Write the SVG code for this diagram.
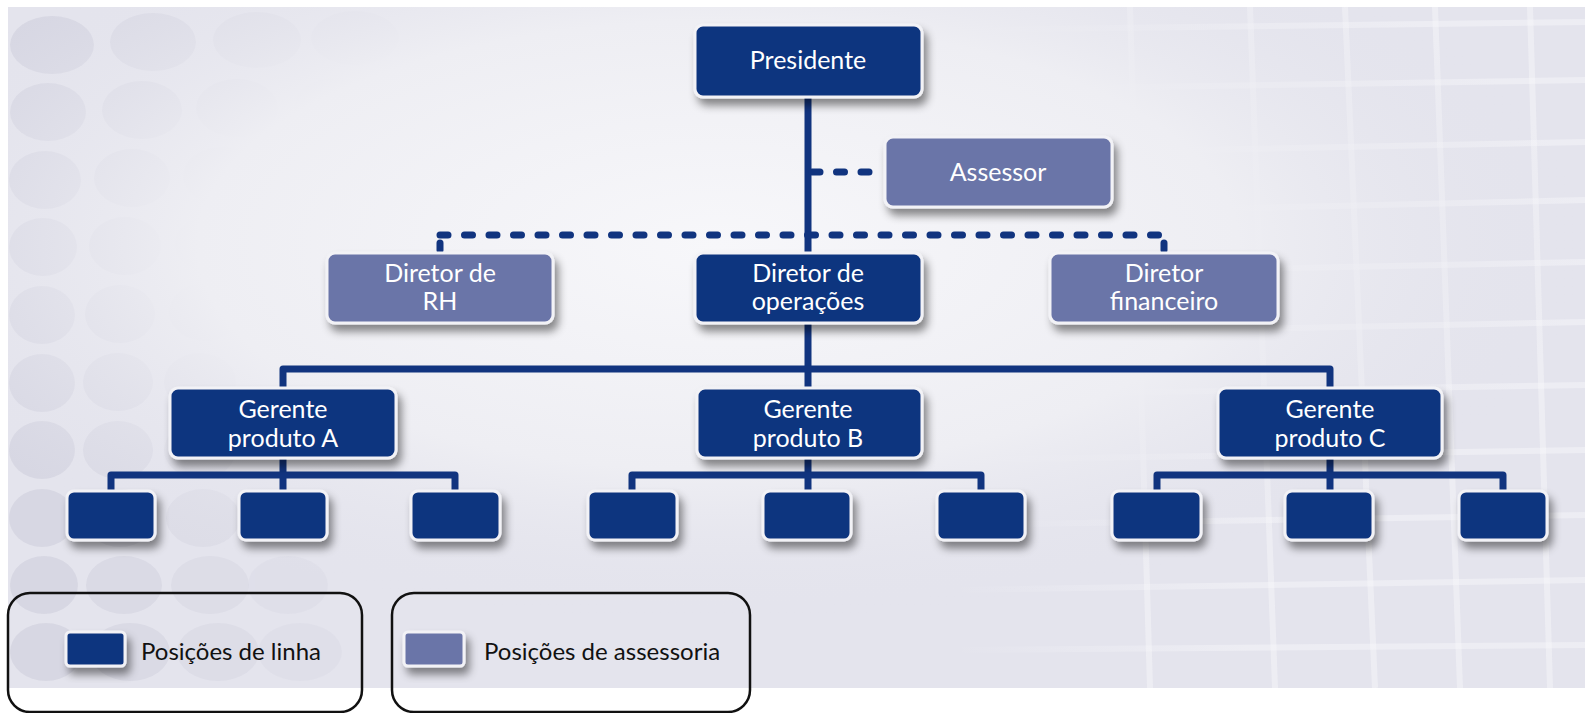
<svg xmlns="http://www.w3.org/2000/svg" width="1585" height="713" viewBox="0 0 1585 713">
  <defs>
    <filter id="sh" x="-20%" y="-30%" width="150%" height="180%">
      <feDropShadow dx="4" dy="7" stdDeviation="4" flood-color="#000" flood-opacity="0.45"/>
    </filter>
    <radialGradient id="glow" cx="0.45" cy="0.35" r="0.55">
      <stop offset="0" stop-color="#f7f7fa"/>
      <stop offset="0.6" stop-color="#eeeef3"/>
      <stop offset="1" stop-color="#e3e3ec" stop-opacity="0"/>
    </radialGradient>
    <linearGradient id="gridfade" gradientUnits="userSpaceOnUse" x1="950" y1="0" x2="1250" y2="0">
      <stop offset="0" stop-color="#f8f8fb" stop-opacity="0"/>
      <stop offset="1" stop-color="#f8f8fb" stop-opacity="1"/>
    </linearGradient>
    <style>
      .line { fill: #11347f; stroke: #f2f2f6; stroke-width: 3; filter: url(#sh); }
      .staff { fill: #6b74a8; stroke: #f2f2f6; stroke-width: 3; filter: url(#sh); }
      .lbl { font-family: Lato, "Open Sans", sans-serif; font-size: 25px; fill: #ffffff; text-anchor: middle; }
      .leg { font-family: Lato, "Open Sans", sans-serif; font-size: 24px; fill: #111111; }
      .solid { fill: none; stroke: #11347f; stroke-width: 7; stroke-linejoin: round; }
      .dash { fill: none; stroke: #11347f; stroke-width: 7; stroke-linecap: round; stroke-dasharray: 8 16.5; }
      .tick { fill: none; stroke: #11347f; stroke-width: 7; stroke-linecap: round; }
      .circ { fill: #d5d5e1; }
      .grid { stroke: url(#gridfade); stroke-width: 6; fill: none; opacity: 0.45; }
      .gridv { stroke: #f8f8fb; stroke-width: 6; fill: none; opacity: 0.45; }
      .legbox { fill: none; stroke: #111111; stroke-width: 2.5; }
    </style>
  </defs>

  <!-- background -->
  <rect x="0" y="0" width="1585" height="713" fill="#ffffff"/>
  <rect x="8" y="7" width="1577" height="681" fill="#e4e4ed"/>
  <g id="grid">
    <path class="gridv" d="M1130 7 L1150 688 M1250 7 L1275 688 M1345 7 L1375 688 M1435 7 L1460 688 M1530 7 L1550 688"/>
    <path class="grid" d="M950 30 L1585 22 M950 90 L1585 80 M950 155 L1585 142 M950 215 L1585 200 M950 275 L1585 262 M950 335 L1585 322 M950 395 L1585 385 M950 460 L1585 450 M950 525 L1585 515 M950 590 L1585 580 M950 650 L1585 645"/>
  </g>
  <g id="circles">
    <g opacity="0.8">
      <ellipse class="circ" cx="52" cy="45" rx="42" ry="29"/>
      <ellipse class="circ" cx="48" cy="112" rx="38" ry="29"/>
      <ellipse class="circ" cx="45" cy="180" rx="36" ry="29"/>
      <ellipse class="circ" cx="43" cy="247" rx="34" ry="29"/>
      <ellipse class="circ" cx="42" cy="315" rx="33" ry="29"/>
      <ellipse class="circ" cx="42" cy="383" rx="33" ry="29"/>
      <ellipse class="circ" cx="42" cy="450" rx="33" ry="29"/>
      <ellipse class="circ" cx="42" cy="518" rx="33" ry="29"/>
      <ellipse class="circ" cx="44" cy="585" rx="34" ry="29"/>
      <ellipse class="circ" cx="46" cy="652" rx="36" ry="29"/>
    </g>
    <g opacity="0.65">
      <ellipse class="circ" cx="153" cy="42" rx="43" ry="29"/>
      <ellipse class="circ" cx="142" cy="110" rx="40" ry="29"/>
      <ellipse class="circ" cx="132" cy="178" rx="38" ry="29"/>
      <ellipse class="circ" cx="125" cy="246" rx="36" ry="29"/>
      <ellipse class="circ" cx="120" cy="314" rx="35" ry="29"/>
      <ellipse class="circ" cx="118" cy="382" rx="35" ry="29"/>
      <ellipse class="circ" cx="118" cy="450" rx="35" ry="29"/>
      <ellipse class="circ" cx="120" cy="518" rx="36" ry="29"/>
      <ellipse class="circ" cx="124" cy="585" rx="38" ry="29"/>
      <ellipse class="circ" cx="130" cy="652" rx="40" ry="29"/>
    </g>
    <g opacity="0.45">
      <ellipse class="circ" cx="257" cy="40" rx="44" ry="28"/>
      <ellipse class="circ" cx="237" cy="108" rx="41" ry="29"/>
      <ellipse class="circ" cx="222" cy="176" rx="39" ry="29"/>
      <ellipse class="circ" cx="212" cy="244" rx="37" ry="29"/>
      <ellipse class="circ" cx="205" cy="312" rx="36" ry="29"/>
      <ellipse class="circ" cx="200" cy="382" rx="36" ry="29"/>
      <ellipse class="circ" cx="200" cy="450" rx="36" ry="29"/>
      <ellipse class="circ" cx="203" cy="518" rx="37" ry="29"/>
      <ellipse class="circ" cx="210" cy="585" rx="39" ry="29"/>
      <ellipse class="circ" cx="218" cy="652" rx="41" ry="29"/>
    </g>
    <g opacity="0.28">
      <ellipse class="circ" cx="355" cy="38" rx="44" ry="27"/>
      <ellipse class="circ" cx="335" cy="106" rx="41" ry="28"/>
      <ellipse class="circ" cx="313" cy="174" rx="39" ry="28"/>
      <ellipse class="circ" cx="300" cy="242" rx="37" ry="28"/>
      <ellipse class="circ" cx="292" cy="312" rx="36" ry="28"/>
      <ellipse class="circ" cx="288" cy="585" rx="40" ry="29"/>
      <ellipse class="circ" cx="300" cy="652" rx="42" ry="29"/>
    </g>
  </g>
  <rect x="8" y="7" width="1577" height="681" fill="url(#glow)"/>

  <!-- connectors -->
  <g id="connectors">
    <path class="solid" d="M808 97 V388"/>
    <path class="solid" d="M283 388 V369 H1330 V388"/>
    <path class="dash" d="M812 172 H884"/>
    <path class="dash" d="M440 235 H1164"/>
    <path class="tick" d="M440 243 V250"/>
    <path class="tick" d="M1164 243 V250"/>
    <path class="solid" d="M283 458 V491"/>
    <path class="solid" d="M111 491 V475 H455 V491"/>
    <path class="solid" d="M808 458 V491"/>
    <path class="solid" d="M632 491 V475 H981 V491"/>
    <path class="solid" d="M1330 458 V491"/>
    <path class="solid" d="M1157 491 V475 H1503 V491"/>
  </g>

  <!-- nodes -->
  <g id="presidente">
    <rect class="line" x="695" y="25" width="227" height="72" rx="8"/>
    <text class="lbl" x="808" y="69">Presidente</text>
  </g>
  <g id="assessor">
    <rect class="staff" x="885" y="137" width="227" height="70" rx="8"/>
    <text class="lbl" x="998" y="181">Assessor</text>
  </g>
  <g id="diretor-rh">
    <rect class="staff" x="327" y="253" width="226" height="70" rx="8"/>
    <text class="lbl" x="440" y="282">Diretor de</text>
    <text class="lbl" x="440" y="310">RH</text>
  </g>
  <g id="diretor-operacoes">
    <rect class="line" x="695" y="253" width="227" height="70" rx="8"/>
    <text class="lbl" x="808" y="282">Diretor de</text>
    <text class="lbl" x="808" y="310">operações</text>
  </g>
  <g id="diretor-financeiro">
    <rect class="staff" x="1050" y="253" width="228" height="70" rx="8"/>
    <text class="lbl" x="1164" y="282">Diretor</text>
    <text class="lbl" x="1164" y="310">financeiro</text>
  </g>
  <g id="gerente-a">
    <rect class="line" x="170" y="388" width="226" height="70" rx="8"/>
    <text class="lbl" x="283" y="418">Gerente</text>
    <text class="lbl" x="283" y="447">produto A</text>
  </g>
  <g id="gerente-b">
    <rect class="line" x="697" y="388" width="225" height="70" rx="8"/>
    <text class="lbl" x="808" y="418">Gerente</text>
    <text class="lbl" x="808" y="447">produto B</text>
  </g>
  <g id="gerente-c">
    <rect class="line" x="1218" y="388" width="224" height="70" rx="8"/>
    <text class="lbl" x="1330" y="418">Gerente</text>
    <text class="lbl" x="1330" y="447">produto C</text>
  </g>
  <g id="a1"><rect class="line" x="67" y="491" width="88" height="49" rx="7"/></g>
  <g id="a2"><rect class="line" x="239" y="491" width="88" height="49" rx="7"/></g>
  <g id="a3"><rect class="line" x="411" y="491" width="89" height="49" rx="7"/></g>
  <g id="b1"><rect class="line" x="588" y="491" width="89" height="49" rx="7"/></g>
  <g id="b2"><rect class="line" x="763" y="491" width="88" height="49" rx="7"/></g>
  <g id="b3"><rect class="line" x="937" y="491" width="88" height="49" rx="7"/></g>
  <g id="c1"><rect class="line" x="1112" y="491" width="89" height="49" rx="7"/></g>
  <g id="c2"><rect class="line" x="1285" y="491" width="88" height="49" rx="7"/></g>
  <g id="c3"><rect class="line" x="1459" y="491" width="88" height="49" rx="7"/></g>

  <!-- legend -->
  <g id="legend-linha">
    <rect class="legbox" x="8" y="593" width="354" height="119" rx="22"/>
    <rect class="line" x="66" y="632" width="59" height="34" rx="4"/>
    <text class="leg" x="141" y="660">Posições de linha</text>
  </g>
  <g id="legend-assessoria">
    <rect class="legbox" x="392" y="593" width="358" height="119" rx="22"/>
    <rect class="staff" x="404" y="632" width="60" height="34" rx="4"/>
    <text class="leg" x="484" y="660">Posições de assessoria</text>
  </g>
</svg>
